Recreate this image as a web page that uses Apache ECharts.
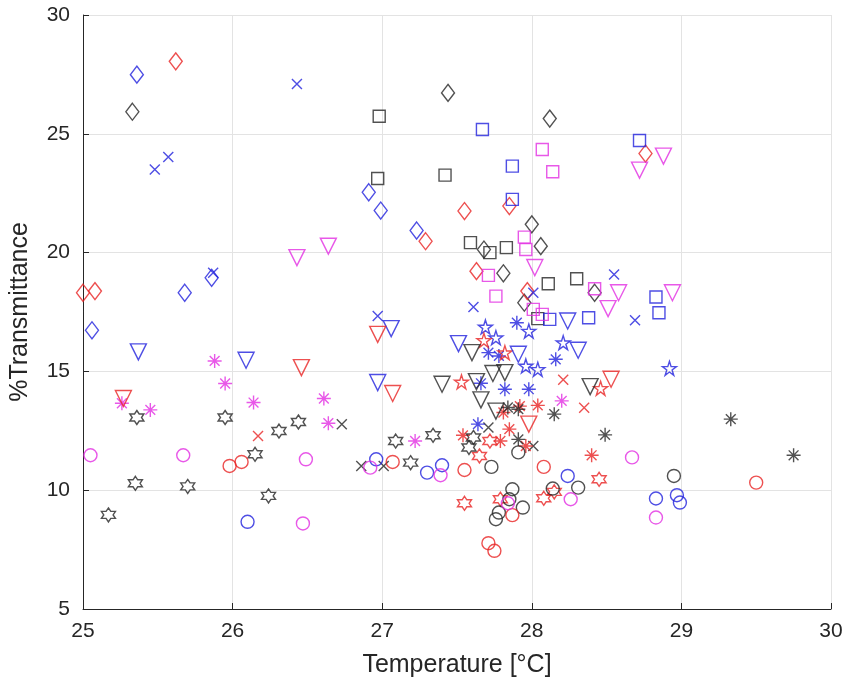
<!DOCTYPE html>
<html><head><meta charset="utf-8">
<script src="https://cdn.jsdelivr.net/npm/echarts@6/dist/echarts.min.js"></script>
<style>html,body{margin:0;padding:0;background:#fff}#c{width:846px;height:683px}</style>
</head><body><div id="c"></div>
<script>
// ---- data: [temperature °C, % transmittance] ----
const blackDiamond = [[25.33,25.93],[27.44,26.72],[28.12,25.64],[27.68,20.13],[27.81,19.13],[27.95,17.89],[28.0,21.19],[28.06,20.27],[28.42,18.31]];
const blueDiamond = [[25.36,27.49],[25.06,16.73],[25.68,18.31],[25.86,18.94],[26.91,22.54],[26.99,21.77],[27.23,20.93]];
const redDiamond = [[25.0,18.31],[25.08,18.38],[25.62,28.05],[27.29,20.48],[27.55,21.75],[27.63,19.22],[27.85,21.96],[27.97,18.38],[28.76,24.17]];
const blackSquare = [[26.98,25.74],[26.97,23.12],[27.42,23.26],[27.59,20.42],[27.72,20.0],[27.83,20.21],[28.11,18.69],[28.04,17.22],[28.3,18.9]];
const blueSquare = [[27.67,25.18],[27.87,23.64],[27.87,22.24],[28.72,24.72],[28.12,17.19],[28.38,17.26],[28.83,18.13],[28.85,17.47]];
const magentaSquare = [[28.07,24.34],[28.14,23.4],[27.95,20.65],[27.96,20.13],[27.71,19.04],[27.76,18.17],[28.01,17.61],[28.07,17.4],[28.42,18.48]];
const blueX = [[26.43,27.1],[25.57,24.02],[25.48,23.5],[25.87,19.15],[26.97,17.33],[27.61,17.71],[28.01,18.31],[28.55,19.08],[28.69,17.15]];
const redX = [[26.17,12.28],[28.21,14.65],[28.35,13.47]];
const blackX = [[26.73,12.78],[26.86,11.02],[27.01,11.02],[27.71,12.64],[28.01,11.86]];
const magentaStar = [[25.26,13.66],[25.45,13.38],[25.88,15.44],[25.95,14.49],[26.14,13.69],[26.61,13.86],[26.64,12.82],[27.22,12.07],[28.2,13.76]];
const redStar = [[27.54,12.31],[28.04,13.57],[27.81,13.27],[27.92,13.54],[27.85,12.57],[27.79,12.07],[27.96,11.86],[28.4,11.47]];
const blackStar = [[28.15,13.2],[27.84,13.48],[27.91,13.41],[27.91,12.14],[28.49,12.33],[29.33,12.99],[29.75,11.47]];
const blueStar = [[27.9,17.05],[27.71,15.79],[27.78,15.65],[28.16,15.51],[27.66,14.5],[27.82,14.25],[27.98,14.25],[27.64,12.78]];
const bluePentagram = [[27.69,16.87],[27.76,16.42],[27.98,16.7],[28.21,16.21],[27.96,15.23],[28.04,15.09],[28.92,15.13]];
const redPentagram = [[27.68,16.31],[27.82,15.79],[27.53,14.56],[28.46,14.29]];
const redHexagram = [[27.55,9.45],[27.65,11.44],[27.72,12.07],[28.08,9.66],[28.15,9.93],[28.45,10.46],[27.79,9.62]];
const blackHexagram = [[25.36,13.06],[25.95,13.06],[26.15,11.51],[26.31,12.49],[26.44,12.87],[27.09,12.07],[27.34,12.31],[27.19,11.16],[27.61,12.22],[27.58,11.8],[25.35,10.29],[25.7,10.16],[25.17,8.96],[26.24,9.76]];
const blackCircle = [[27.73,10.98],[27.87,10.04],[27.85,9.62],[27.94,9.27],[27.78,9.06],[27.76,8.78],[27.91,11.59],[28.14,10.07],[28.31,10.11],[28.95,10.6]];
const blueCircle = [[26.1,8.67],[26.96,11.3],[27.3,10.74],[27.4,11.05],[28.24,10.6],[28.83,9.65],[28.97,9.79],[28.99,9.48]];
const redCircle = [[25.98,11.02],[26.06,11.19],[27.07,11.19],[27.55,10.85],[28.08,10.98],[27.87,8.95],[27.71,7.77],[27.75,7.45],[29.5,10.32]];
const magentaCircle = [[25.05,11.47],[25.67,11.47],[26.49,11.3],[26.47,8.6],[26.92,10.95],[27.39,10.63],[27.84,9.45],[28.26,9.62],[28.67,11.38],[28.83,8.85]];
const blackTriangle = [[27.4,14.46],[27.6,15.79],[27.66,13.8],[28.39,14.36],[27.74,14.91],[27.82,14.95],[27.63,14.57],[27.76,13.33]];
const blueTriangle = [[25.37,15.82],[26.09,15.47],[27.06,16.8],[26.97,14.53],[27.51,16.17],[27.91,15.72],[28.24,17.12],[28.31,15.89]];
const redTriangle = [[25.27,13.86],[26.46,15.16],[26.97,16.56],[27.07,14.07],[27.98,12.78],[28.53,14.67]];
const magentaTriangle = [[26.43,19.79],[26.64,20.27],[28.02,19.37],[28.58,18.31],[28.51,17.64],[28.94,18.31],[28.72,23.47],[28.88,24.06]];
const xTicks = [25, 26, 27, 28, 29, 30];
const yTicks = [5, 10, 15, 20, 25, 30];

// ---- styles ----
const C = {k:'#262626', b:'#2222dd', r:'#e82424', m:'#e22ee2'};
const SYM = {
  circle:{symbol:'circle', size:13},
  square:{symbol:'rect', size:12},
  diamond:{symbol:'diamond', size:[13,17]},
  x:{symbol:'path://M0,0L100,100M100,0L0,100', size:10},
  star:{symbol:'path://M50,0L50,100M0,50L100,50M15,15L85,85M85,15L15,85', size:14},
  tri:{symbol:'path://M0,0L100,0L50,86.6Z', size:16},
  penta:{symbol:'path://M50,0L61.23,34.55L97.55,34.55L68.17,55.9L79.39,90.45L50,69.1L20.61,90.45L31.83,55.9L2.45,34.55L38.77,34.55Z', size:14},
  hexa:{symbol:'path://M50,0L64.43,25L93.3,25L78.87,50L93.3,75L64.43,75L50,100L35.57,75L6.7,75L21.13,50L6.7,25L35.57,25Z', size:14}
};
function mk(data, sym, col){
  const s = SYM[sym];
  return {type:'scatter', data:data, symbol:s.symbol, symbolSize:s.size,
    itemStyle:{color:'rgba(0,0,0,0)', borderColor:col, borderWidth:1.4},
    emphasis:{disabled:true}, silent:true};
}
const series = [
  mk(blackDiamond,'diamond',C.k), mk(blueDiamond,'diamond',C.b), mk(redDiamond,'diamond',C.r),
  mk(blackSquare,'square',C.k), mk(blueSquare,'square',C.b), mk(magentaSquare,'square',C.m),
  mk(blueX,'x',C.b), mk(redX,'x',C.r), mk(blackX,'x',C.k),
  mk(magentaStar,'star',C.m), mk(redStar,'star',C.r), mk(blackStar,'star',C.k), mk(blueStar,'star',C.b),
  mk(bluePentagram,'penta',C.b), mk(redPentagram,'penta',C.r),
  mk(redHexagram,'hexa',C.r), mk(blackHexagram,'hexa',C.k),
  mk(blackCircle,'circle',C.k), mk(blueCircle,'circle',C.b), mk(redCircle,'circle',C.r), mk(magentaCircle,'circle',C.m),
  mk(blackTriangle,'tri',C.k), mk(blueTriangle,'tri',C.b), mk(redTriangle,'tri',C.r), mk(magentaTriangle,'tri',C.m)
];

const chart = echarts.init(document.getElementById('c'), null, {renderer:'canvas'});
const font = 'Arial, "Liberation Sans", Helvetica, sans-serif';
chart.setOption({
  animation:false,
  backgroundColor:'#fff',
  grid:{left:81, right:15, top:15, bottom:73, containLabel:false},
  xAxis:{type:'value', min:xTicks[0], max:xTicks[xTicks.length-1], interval:1,
    name:'Temperature [°C]', nameLocation:'middle', nameGap:44,
    nameTextStyle:{fontFamily:font, fontSize:25, color:'#262626'},
    axisLine:{show:true, onZero:false, lineStyle:{color:'#262626', width:1}},
    axisTick:{show:true, inside:true, length:6, lineStyle:{color:'#262626'}},
    axisLabel:{fontFamily:font, fontSize:21, color:'#262626', margin:12},
    splitLine:{show:true, lineStyle:{color:'#e3e3e3', width:1}}},
  yAxis:{type:'value', min:yTicks[0], max:yTicks[yTicks.length-1], interval:5,
    name:'%Transmittance', nameLocation:'middle', nameGap:50, nameRotate:90,
    nameTextStyle:{fontFamily:font, fontSize:25, color:'#262626'},
    axisLine:{show:true, onZero:false, lineStyle:{color:'#262626', width:1}},
    axisTick:{show:true, inside:true, length:6, lineStyle:{color:'#262626'}},
    axisLabel:{fontFamily:font, fontSize:21, color:'#262626', margin:13},
    splitLine:{show:true, lineStyle:{color:'#e3e3e3', width:1}}},
  series: series
});
</script></body></html>
